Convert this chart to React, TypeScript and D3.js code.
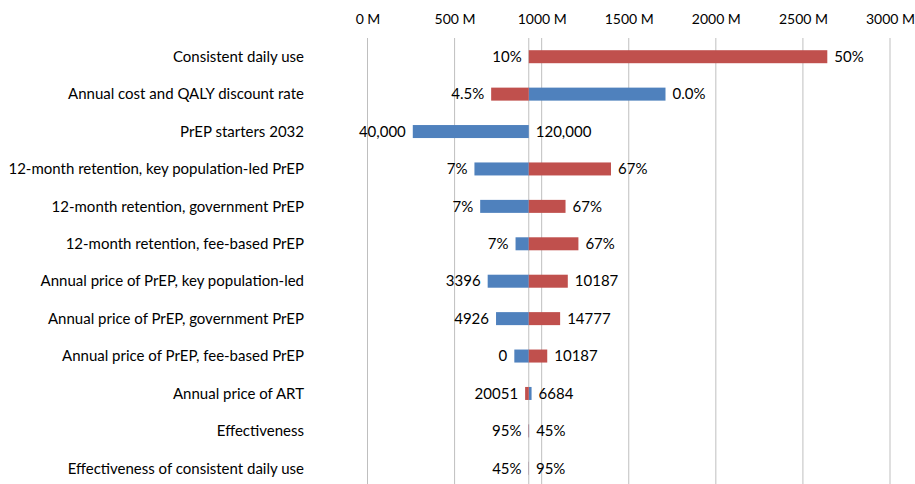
import React, { useEffect, useRef } from 'react';
import * as d3 from 'd3';

// tornado chart data (results in M)
const categories = [
  'Consistent daily use',
  'Annual cost and QALY discount rate',
  'PrEP starters 2032',
  '12-month retention, key population-led PrEP',
  '12-month retention, government PrEP',
  '12-month retention, fee-based PrEP',
  'Annual price of PrEP, key population-led',
  'Annual price of PrEP, government PrEP',
  'Annual price of PrEP, fee-based PrEP',
  'Annual price of ART',
  'Effectiveness',
  'Effectiveness of consistent daily use',
];
const baseValue = 926;
// low input value (blue series)
const lowInputs = ['10%', '0.0%', '40,000', '7%', '7%', '7%', '3396', '4926', '0', '6684', '45%', '45%'];
const lowValues = [926, 1711, 260, 614, 647, 850, 690, 738, 843, 942, 928, 925];
// high input value (red series)
const highInputs = ['50%', '4.5%', '120,000', '67%', '67%', '67%', '10187', '14777', '10187', '20051', '95%', '95%'];
const highValues = [2640, 710, 926, 1398, 1137, 1211, 1150, 1106, 1032, 905, 924, 927];
const xTicks = [0, 500, 1000, 1500, 2000, 2500, 3000];

const App = () => {
  const ref = useRef<SVGSVGElement>(null);
  const width = 915;
  const height = 484;

  useEffect(() => {
    const svg = d3.select(ref.current);
    svg.selectAll('*').remove();

    const font = 'Lato, "Open Sans", sans-serif';
    const fontSize = '15px';
    const margin = { top: 38, left: 367.5, right: 22 };
    const plotHeight = 449;

    const x = d3.scaleLinear().domain([0, 3000]).range([margin.left, width - margin.right - 3]);
    const y = d3.scaleBand<number>()
      .domain(d3.range(categories.length))
      .range([margin.top, margin.top + plotHeight]);
    const barH = 13;

    // gridlines
    svg.append('g')
      .selectAll('line')
      .data(xTicks)
      .enter().append('line')
      .attr('x1', d => x(d)).attr('x2', d => x(d))
      .attr('y1', margin.top).attr('y2', margin.top + plotHeight)
      .attr('stroke', '#bfbfbf').attr('stroke-width', 1);

    // base line
    svg.append('line')
      .attr('x1', x(baseValue)).attr('x2', x(baseValue))
      .attr('y1', margin.top).attr('y2', margin.top + plotHeight)
      .attr('stroke', '#bfbfbf').attr('stroke-width', 1);

    // top axis
    const axis = svg.append('g')
      .attr('transform', `translate(0,${margin.top - 14})`)
      .call(d3.axisTop(x).tickValues(xTicks).tickFormat(d => `${d} M`).tickSize(0).tickPadding(0));
    axis.select('.domain').remove();
    axis.selectAll('text')
      .attr('font-family', font).attr('font-size', '14px').attr('fill', '#000');

    const rows = categories.map((c, i) => ({
      i, c,
      low: lowValues[i], high: highValues[i],
      lowLabel: lowInputs[i], highLabel: highInputs[i],
    }));

    const cy = (i: number) => (y(i) as number) + y.bandwidth() / 2;

    // category labels
    svg.append('g')
      .selectAll('text')
      .data(rows)
      .enter().append('text')
      .attr('x', 304)
      .attr('y', d => cy(d.i))
      .attr('dy', '0.35em')
      .attr('text-anchor', 'end')
      .attr('font-family', font).attr('font-size', fontSize).attr('fill', '#000')
      .text(d => d.c);

    const drawBars = (key: 'low' | 'high', color: string) => {
      svg.append('g')
        .selectAll('rect')
        .data(rows)
        .enter().append('rect')
        .attr('x', d => x(Math.min(baseValue, d[key])))
        .attr('width', d => Math.abs(x(d[key]) - x(baseValue)))
        .attr('y', d => cy(d.i) - barH / 2)
        .attr('height', barH)
        .attr('fill', color);
    };
    drawBars('low', '#4f81bd');
    drawBars('high', '#c0504d');

    // end labels
    const gap = 7;
    const labels = svg.append('g')
      .attr('font-family', font).attr('font-size', fontSize).attr('fill', '#000');
    rows.forEach(d => {
      const lowIsLeft = d.low <= d.high;
      const leftVal = Math.min(baseValue, d.low, d.high);
      const rightVal = Math.max(baseValue, d.low, d.high);
      labels.append('text')
        .attr('x', x(leftVal) - gap)
        .attr('y', cy(d.i))
        .attr('dy', '0.35em')
        .attr('text-anchor', 'end')
        .text(lowIsLeft ? d.lowLabel : d.highLabel);
      labels.append('text')
        .attr('x', x(rightVal) + gap)
        .attr('y', cy(d.i))
        .attr('dy', '0.35em')
        .attr('text-anchor', 'start')
        .text(lowIsLeft ? d.highLabel : d.lowLabel);
    });
  }, []);

  return (
    <svg ref={ref} width={width} height={height}
      style={{ position: 'absolute', left: 0, top: 0, background: '#fff' }} />
  );
};

export default App;
